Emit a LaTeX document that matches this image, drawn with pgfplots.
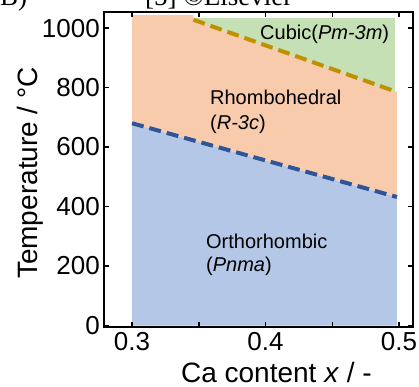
\documentclass[border=0pt]{standalone}
\usepackage{fontspec}
\setmainfont{Liberation Sans}
\newfontfamily\seriffont{Liberation Serif}
\usepackage{pgfplots}
\pgfplotsset{compat=1.18}
\definecolor{cblue}{HTML}{B4C7E7}
\definecolor{corange}{HTML}{F8CBAD}
\definecolor{cgreen}{HTML}{C5E0B4}
\definecolor{dblue}{HTML}{2F5597}
\definecolor{dgold}{HTML}{BF9000}
\begin{document}
\begin{tikzpicture}
\useasboundingbox (0,0) rectangle (419pt,386pt);
\node[anchor=base west, inner sep=0pt, font=\seriffont\fontsize{27}{30}\selectfont] at (0pt,380pt) {B)};
\node[anchor=base west, inner sep=0pt, font=\seriffont\fontsize{27}{30}\selectfont] at (145pt,380pt) {[5] ©Elsevier};
\begin{axis}[
  at={(104pt,59pt)}, anchor=south west,
  scale only axis, width=309pt, height=315pt,
  xmin=0.279, xmax=0.5105, ymin=-5, ymax=1054,
  xtick={0.3,0.35,0.4,0.45,0.5}, xticklabels={0.3,,0.4,,0.5},
  ytick={0,200,400,600,800,1000}, yticklabels={0,200,400,600,800,1000},
  tick align=inside, major tick length=5pt,
  axis line style={line width=1.8pt},
  every tick/.style={black, line width=1.5pt},
  tick label style={font=\fontsize{26}{30}\selectfont},
  yticklabel style={inner sep=4pt},
  xticklabel style={inner sep=5pt},
  label style={font=\fontsize{28}{32}\selectfont},
  xlabel={Ca content \textit{x} / -},
  ylabel={Temperature / °C},
  xlabel style={at={(axis description cs:0.558,-0.176)}, anchor=base},
  ylabel style={at={(axis description cs:-0.2168,0.489)}, anchor=base},
  axis on top,
  clip=false,
]
% fills
\addplot[draw=none, fill=cblue] coordinates {(0.3,0) (0.3,680) (0.4985,432) (0.4985,0)} -- cycle;
\addplot[draw=none, fill=corange] coordinates {(0.3,680) (0.3,1044) (0.346,1044) (0.346,1028) (0.4985,785) (0.4985,432)} -- cycle;
\addplot[draw=none, fill=cgreen] coordinates {(0.346,1028) (0.346,1034) (0.497,1034) (0.497,785)} -- cycle;
% boundaries
\addplot[dblue, line width=4pt, dash pattern=on 12pt off 6pt] coordinates {(0.3,680) (0.4985,432)};
\addplot[dgold, line width=4pt, dash pattern=on 12pt off 6pt] coordinates {(0.346,1028) (0.4985,785)};
% labels
\node[anchor=base west, inner sep=0pt, font=\fontsize{20}{24}\selectfont] at (axis cs:0.3959,963) {Cubic(\textit{Pm-3m})};
\node[anchor=base west, inner sep=0pt, font=\fontsize{20}{24}\selectfont] at (axis cs:0.3584,744) {Rhombohedral};
\node[anchor=base west, inner sep=0pt, font=\fontsize{20}{24}\selectfont] at (axis cs:0.3584,658) {(\textit{R-3c})};
\node[anchor=base west, inner sep=0pt, font=\fontsize{20}{24}\selectfont] at (axis cs:0.3554,260) {Orthorhombic};
\node[anchor=base west, inner sep=0pt, font=\fontsize{20}{24}\selectfont] at (axis cs:0.3554,180) {(\textit{Pnma})};
\end{axis}
\end{tikzpicture}
\end{document}
